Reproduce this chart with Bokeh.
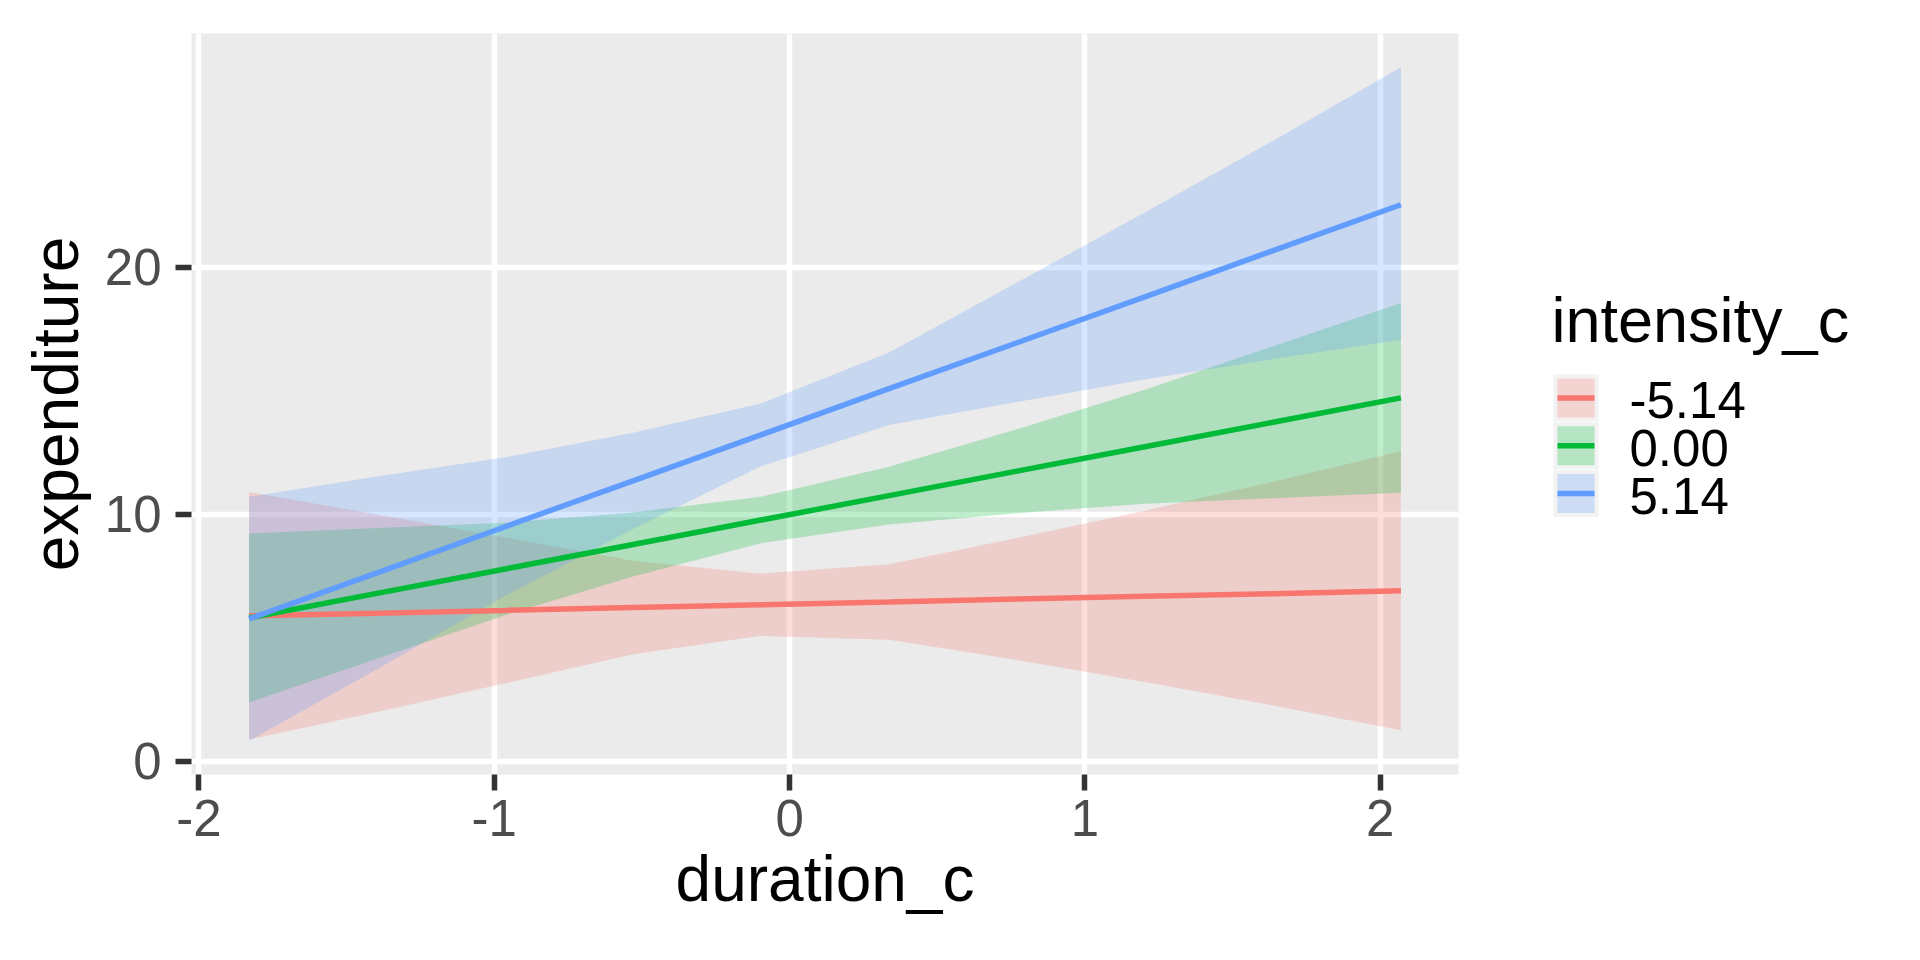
from bokeh.plotting import figure
from bokeh.models import Range1d, FixedTicker
from bokeh.layouts import row
from bokeh.core.properties import value
from bokeh.embed import file_html
from bokeh.resources import INLINE

# ---- data ----
duration_c = [-1.83, -1.397, -0.963, -0.53, -0.097, 0.337, 0.77, 1.203, 1.637, 2.07]

levels = ["-5.14", "0.00", "5.14"]
colors = ["#F8766D", "#00BA38", "#619CFF"]

fit_neg = [5.88, 5.99, 6.10, 6.22, 6.33, 6.44, 6.56, 6.67, 6.78, 6.90]
low_neg = [0.87, 1.99, 3.15, 4.33, 5.07, 4.91, 4.09, 3.20, 2.25, 1.25]
upp_neg = [10.89, 9.99, 9.05, 8.11, 7.59, 7.97, 9.03, 10.14, 11.31, 12.55]

fit_zero = [5.80, 6.79, 7.78, 8.77, 9.76, 10.75, 11.74, 12.73, 13.72, 14.71]
low_zero = [2.38, 4.14, 5.91, 7.47, 8.82, 9.58, 10.04, 10.42, 10.64, 10.87]
upp_zero = [9.22, 9.44, 9.65, 10.07, 10.70, 11.92, 13.44, 15.04, 16.80, 18.55]

fit_pos = [5.76, 7.62, 9.49, 11.35, 13.21, 15.08, 16.94, 18.80, 20.67, 22.53]
low_pos = [0.82, 3.72, 6.68, 9.40, 11.94, 13.61, 14.54, 15.45, 16.28, 17.06]
upp_pos = [10.70, 11.52, 12.30, 13.30, 14.48, 16.55, 19.38, 22.22, 25.12, 28.10]

x_ticks = [-2, -1, 0, 1, 2]
y_ticks = [0, 10, 20]

fits = [fit_neg, fit_zero, fit_pos]
lows = [low_neg, low_zero, low_pos]
upps = [upp_neg, upp_zero, upp_pos]

# ggplot-like 5% expansion of the data range
xmin, xmax = min(duration_c), max(duration_c)
ymin = min(min(l) for l in lows)
ymax = max(max(u) for u in upps)
dx = (xmax - xmin) * 0.05
dy = (ymax - ymin) * 0.05

FONT = "Liberation Sans"
RIBBON_ALPHA = 0.25
LINE_W = 5.5

# ---------------- main panel ----------------
MAIN_W = 191 + 1267 + 12
p = figure(
    frame_width=1267, frame_height=741,
    min_border_left=191, min_border_top=33, min_border_right=12, min_border_bottom=170,
    x_range=Range1d(xmin - dx, xmax + dx), y_range=Range1d(ymin - dy, ymax + dy),
    output_backend="svg", toolbar_location=None,
    background_fill_color="#EBEBEB", border_fill_color="white", outline_line_color=None,
    x_axis_label="duration_c", y_axis_label="expenditure",
    align="start",
)

for g in (p.xgrid, p.ygrid):
    g.grid_line_color = "white"
    g.grid_line_width = 5.5
p.xaxis.ticker = FixedTicker(ticks=x_ticks)
p.yaxis.ticker = FixedTicker(ticks=y_ticks)
# plain hyphen-minus like the reference
p.xaxis.major_label_overrides = {t: str(t) for t in x_ticks}
p.yaxis.major_label_overrides = {t: str(t) for t in y_ticks}

for ax in (p.xaxis, p.yaxis):
    ax.axis_line_color = None
    ax.major_tick_line_color = "#333333"
    ax.major_tick_line_width = 5.5
    ax.major_tick_out = 16
    ax.major_tick_in = 0
    ax.minor_tick_out = 0
    ax.minor_tick_in = 0
    ax.major_label_text_font = FONT
    ax.major_label_text_font_size = "51px"
    ax.major_label_text_color = "#4D4D4D"
    ax.axis_label_text_font = FONT
    ax.axis_label_text_font_size = "64px"
    ax.axis_label_text_font_style = "normal"
    ax.axis_label_text_color = "black"
p.xaxis.major_label_standoff = 9
p.xaxis.axis_label_standoff = 4
p.yaxis.major_label_standoff = 14
p.yaxis.axis_label_standoff = 10

ribbons = []
for lo, up, c in zip(lows, upps, colors):
    ribbons.append(p.varea(x=duration_c, y1=lo, y2=up, fill_color=c, fill_alpha=RIBBON_ALPHA))
for f, c in zip(fits, colors):
    p.line(x=duration_c, y=f, line_color=c, line_width=LINE_W)

# ---------------- legend (separate canvas, pixel coordinates, y downwards) ----------------
LEG_W, LEG_H = 1904 - MAIN_W, 944
q = figure(
    frame_width=LEG_W, frame_height=LEG_H, min_border=0,
    x_range=Range1d(0, LEG_W), y_range=Range1d(LEG_H, 0),
    x_axis_type=None, y_axis_type=None,
    output_backend="svg", toolbar_location=None,
    background_fill_color="white", border_fill_color="white", outline_line_color=None,
    align="start",
)

key_left = 1553 - MAIN_W
key_w = 45
key_h = 47
key_pitch = 47.8
key_top0 = 341
inset = 4
n = len(levels)
tops = [key_top0 + i * key_pitch for i in range(n)]
bottoms = [t + key_h for t in tops]
mids = [t + key_h / 2 for t in tops]

q.quad(left=[key_left] * n, right=[key_left + key_w] * n, top=tops, bottom=bottoms,
       fill_color="#F2F2F2", line_color=None)
q.quad(left=[key_left + inset] * n, right=[key_left + key_w - inset] * n,
       top=[t + inset for t in tops], bottom=[b - inset for b in bottoms],
       fill_color=colors, fill_alpha=RIBBON_ALPHA, line_color=None)
q.segment(x0=[key_left + inset] * n, x1=[key_left + key_w - inset] * n, y0=mids, y1=mids,
          line_color=colors, line_width=LINE_W)
q.text(x=[key_left + 76] * n, y=[m + 2 for m in mids], text=levels,
       text_font=value(FONT), text_font_size=value("51px"), text_color="black",
       text_align="left", text_baseline="middle")
q.text(x=[key_left - 2], y=[286], text=["intensity_c"],
       text_font=value(FONT), text_font_size=value("63px"), text_color="black",
       text_align="left", text_baseline="middle")

layout = row(p, q)
open("out.html", "w").write(file_html(layout, INLINE))
